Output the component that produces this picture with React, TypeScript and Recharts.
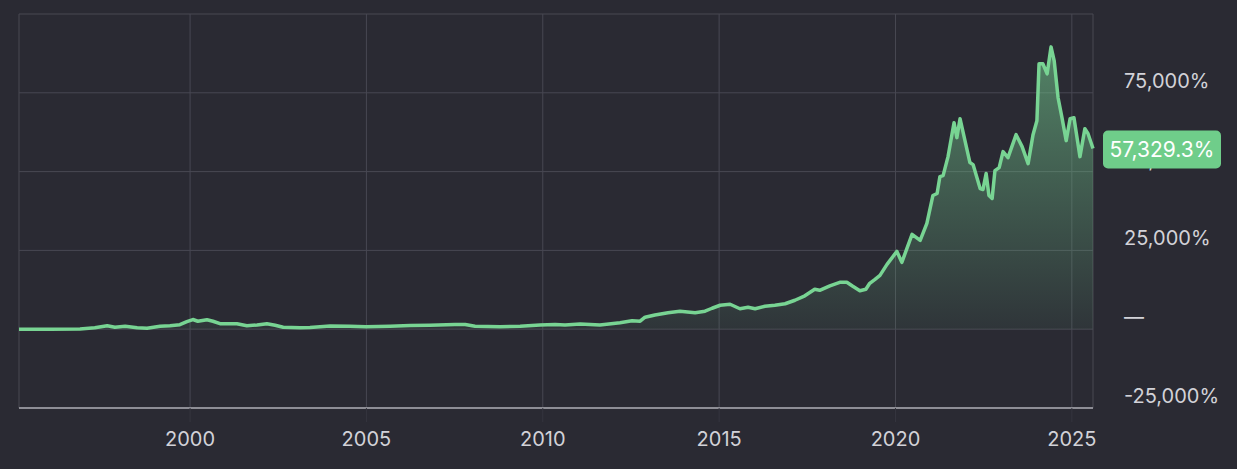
import { ComposedChart, Area, XAxis, YAxis, CartesianGrid, ReferenceDot } from "recharts";

const years = [
  1995.15, 1996.03, 1996.88, 1997.3, 1997.65, 1997.87, 1998.16, 1998.5, 1998.78, 1999.15,
  1999.43, 1999.71, 1999.91, 2000.08, 2000.22, 2000.48, 2000.65, 2000.85, 2001.33, 2001.61,
  2001.9, 2002.18, 2002.41, 2002.64, 2003.12, 2003.4, 2003.97, 2004.53, 2004.99, 2005.67,
  2006.24, 2006.8, 2007.51, 2007.8, 2008.08, 2008.79, 2009.36, 2009.92, 2010.35, 2010.63,
  2011.06, 2011.62, 2012.19, 2012.53, 2012.76, 2012.9, 2013.18, 2013.55, 2013.89, 2014.32,
  2014.6, 2014.8, 2015.03, 2015.31, 2015.59, 2015.82, 2016.02, 2016.3, 2016.58, 2016.87,
  2017.15, 2017.43, 2017.71, 2017.85, 2018.14, 2018.42, 2018.62, 2018.79, 2018.99, 2019.16,
  2019.27, 2019.42, 2019.56, 2019.76, 2020.04, 2020.18, 2020.47, 2020.7, 2020.89, 2021.06,
  2021.18, 2021.26, 2021.35, 2021.49, 2021.66, 2021.74, 2021.83, 2021.97, 2022.11, 2022.2,
  2022.4, 2022.48, 2022.57, 2022.65, 2022.74, 2022.82, 2022.94, 2023.05, 2023.19, 2023.42,
  2023.59, 2023.76, 2023.9, 2024.01, 2024.07, 2024.18, 2024.3, 2024.41, 2024.5, 2024.61,
  2024.72, 2024.84, 2024.95, 2025.06, 2025.23, 2025.37, 2025.46, 2025.6,
];

// total return, %
const returns = [
  0, 0, 100, 470, 1110, 630, 950, 470, 320, 950,
  1110, 1420, 2370, 3070, 2530, 3010, 2530, 1740, 1740, 1110,
  1360, 1740, 1270, 630, 470, 540, 1040, 950, 790, 950,
  1170, 1270, 1490, 1490, 950, 790, 950, 1360, 1520, 1330,
  1680, 1330, 2060, 2690, 2530, 3800, 4530, 5220, 5700, 5220,
  5700, 6650, 7600, 7910, 6490, 6960, 6490, 7280, 7600, 8070,
  9180, 10600, 12660, 12340, 13770, 14880, 14880, 13610, 12190, 12660,
  14560, 15830, 17090, 20570, 24690, 21210, 30070, 28170, 33550, 42410,
  43040, 48420, 48740, 54750, 65520, 60770, 66780, 59820, 52860, 52220,
  44630, 44310, 49370, 42410, 41460, 50320, 51270, 56340, 54440, 61720,
  57920, 52540, 61720, 66150, 84190, 84190, 81020, 89570, 85140, 73430,
  67100, 59820, 66780, 67100, 54750, 63620, 62030, 57329.3,
];

const xTicks = [2000, 2005, 2010, 2015, 2020, 2025];
const yTicks = [-25000, 0, 25000, 50000, 75000, 100000];

const data = years.map((t, i) => ({ t, v: returns[i] }));
const last = data[data.length - 1];

const FONT = "Inter, 'Open Sans', sans-serif";

function YTick(props: any) {
  const { x, y, payload } = props;
  const v = payload.value;
  if (v === 100000) return null;
  const label = v === 0 ? "—" : `${v.toLocaleString("en-US")}%`;
  return (
    <text x={x} y={y - 12} textAnchor="start" dominantBaseline="central" fill="#d2d2d8" fontSize={20} fontFamily={FONT}>
      {label}
    </text>
  );
}

function Badge(props: any) {
  const { cx, cy } = props;
  return (
    <g>
      <rect x={cx + 10} y={cy - 18} width={118} height={38} rx={5} fill="#6fcd8a" />
      <text x={cx + 69} y={cy + 1} textAnchor="middle" dominantBaseline="central" fill="#ffffff" fontSize={21} fontFamily={FONT}>
        {`${last.v.toLocaleString("en-US", { minimumFractionDigits: 1 })}%`}
      </text>
    </g>
  );
}

export default function App() {
  return (
    <div style={{ position: "absolute", left: 0, top: 0, width: 1237, height: 469, background: "#2a2a33" }}>
      <ComposedChart width={1237} height={469} data={data} margin={{ top: 14, right: 14, left: 19, bottom: 21 }}>
        <defs>
          <linearGradient id="fillGreen" x1="0" y1="0" x2="0" y2="1">
            <stop offset="0%" stopColor="#72c88d" stopOpacity={0.95} />
            <stop offset="100%" stopColor="#6fc289" stopOpacity={0.12} />
          </linearGradient>
        </defs>
        <CartesianGrid stroke="#484853" strokeWidth={1} />
        <XAxis
          dataKey="t"
          type="number"
          domain={[1995.15, 2025.6]}
          ticks={xTicks}
          height={40}
          axisLine={{ stroke: "#8e8e96", strokeWidth: 2 }}
          tickLine={{ stroke: "#35353f" }}
          tickSize={14}
          tickMargin={10}
          tick={{ fill: "#d2d2d8", fontSize: 20, fontFamily: FONT }}
        />
        <YAxis
          orientation="right"
          type="number"
          domain={[-25000, 100000]}
          ticks={yTicks}
          width={130}
          axisLine={false}
          tickLine={false}
          tickSize={0}
          tickMargin={31}
          tick={<YTick />}
        />
        <Area
          type="linear"
          dataKey="v"
          stroke="#78d493"
          strokeWidth={3.5}
          strokeLinejoin="round"
          fill="url(#fillGreen)"
          isAnimationActive={false}
          dot={false}
          activeDot={false}
        />
        <ReferenceDot x={last.t} y={last.v} r={0} ifOverflow="visible" zIndex={2000} shape={<Badge />} />
      </ComposedChart>
    </div>
  );
}
